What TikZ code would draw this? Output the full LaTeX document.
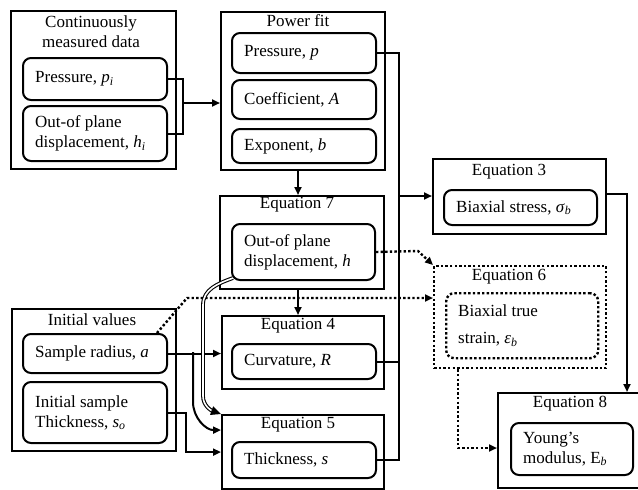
\documentclass[tikz,border=0pt]{standalone}
\usepackage{fontspec}
\setmainfont{Liberation Serif}
\newfontfamily\tnr{Liberation Serif}
\usetikzlibrary{arrows.meta}
\newcommand\sbs[1]{\textsubscript{#1}}
\begin{document}
\begin{tikzpicture}[x=1pt,y=-1pt,
 every node/.style={font=\tnr\fontsize{17}{20}\selectfont, inner sep=0pt},
 obox/.style={draw, line width=2.2pt, anchor=north west},
 ibox/.style={draw, line width=2pt, rounded corners=8pt, anchor=north west},
 dotted box/.style={draw, line width=2.4pt, dash pattern=on 2.4pt off 2.2pt, anchor=north west},
 ttl/.style={anchor=center, align=center},
 itxt/.style={anchor=west, align=left},
 line/.style={line width=2pt},
 arr/.style={line, -{Triangle[length=8pt,width=7pt]}},
 dotline/.style={line width=2.4pt, dash pattern=on 2.4pt off 2.2pt},
 dotarr/.style={dotline, -{Triangle[length=8pt,width=7pt]}},
 dblarr/.style={double, double distance=1.6pt, line width=1.1pt, -{Triangle[length=10pt,width=9pt]}},
 ]
\useasboundingbox (0,0) rectangle (638,490);
\fill[white] (0,0) rectangle (638,490);

% Continuously measured data
\node[obox, minimum width=165pt, minimum height=158pt] (A) at (10,10) {};
\node[ttl] (At) at (91,32) {Continuously\\measured data};
\node[ibox, minimum width=144pt, minimum height=42pt] (A1) at (22,57) {};
\node[itxt] (A1t) at ([xshift=13pt]A1.west) {Pressure, \textit{p}\sbs{\textit{i}}};
\node[ibox, minimum width=144pt, minimum height=55pt] (A2) at (22,105) {};
\node[itxt] (A2t) at ([xshift=13pt]A2.west) {Out-of plane\\displacement, \textit{h}\sbs{\textit{i}}};

% Power fit
\node[obox, minimum width=164pt, minimum height=158pt] (B) at (220,11) {};
\node[ttl] (Bt) at (298,21) {Power fit};
\node[ibox, minimum width=144pt, minimum height=40pt] (B1) at (231,32) {};
\node[itxt] (B1t) at ([xshift=13pt]B1.west) {Pressure, \textit{p}};
\node[ibox, minimum width=144pt, minimum height=39pt] (B2) at (231,79) {};
\node[itxt] (B2t) at ([xshift=13pt]B2.west) {Coefficient, \textit{A}};
\node[ibox, minimum width=144pt, minimum height=34pt] (B3) at (231,128) {};
\node[itxt] (B3t) at ([xshift=13pt]B3.west) {Exponent, \textit{b}};

% Equation 7
\node[obox, minimum width=164pt, minimum height=93pt] (C) at (219,195) {};
\node[ttl] (Ct) at (297,205) {Equation 7};
\node[ibox, minimum width=143pt, minimum height=56pt] (C1) at (231,223) {};
\node[itxt] (C1t) at ([xshift=13pt]C1.west) {Out-of plane\\displacement, \textit{h}};

% Equation 4
\node[obox, minimum width=162pt, minimum height=73pt] (D) at (221,315) {};
\node[ttl] (Dt) at (298,326) {Equation 4};
\node[ibox, minimum width=144pt, minimum height=35pt] (D1) at (231,343) {};
\node[itxt] (D1t) at ([xshift=13pt]D1.west) {Curvature, \textit{R}};

% Equation 5
\node[obox, minimum width=162pt, minimum height=74pt] (E) at (221,414) {};
\node[ttl] (Et) at (298,425) {Equation 5};
\node[ibox, minimum width=144pt, minimum height=36pt] (E1) at (231,441) {};
\node[itxt] (E1t) at ([xshift=13pt]E1.west) {Thickness, \textit{s}};

% Equation 3
\node[obox, minimum width=173pt, minimum height=75pt] (F) at (432,158) {};
\node[ttl] (Ft) at (509,172) {Equation 3};
\node[ibox, minimum width=153pt, minimum height=35pt] (F1) at (443,189) {};
\node[itxt] (F1t) at ([xshift=13pt]F1.west) {Biaxial stress, \textit{σ}\sbs{\textit{b}}};

% Equation 6 (dotted)
\node[dotted box, minimum width=172pt, minimum height=102pt] (G) at (433,265) {};
\node[ttl] (Gt) at (509,277) {Equation 6};
\node[dotted box, rounded corners=8pt, minimum width=152pt, minimum height=65pt] (G1) at (445,292) {};
\node[itxt] (G1t) at ([xshift=13pt]G1.west) {Biaxial true\\[7pt]strain, \textit{ε}\sbs{\textit{b}}};

% Equation 8
\node[obox, minimum width=146pt, minimum height=95pt] (H) at (497,392) {};
\node[ttl] (Ht) at (570,404) {Equation 8};
\node[ibox, minimum width=122pt, minimum height=52pt] (H1) at (510,422) {};
\node[itxt] (H1t) at ([xshift=13pt]H1.west) {Young’s\\modulus, E\sbs{\textit{b}}};

% Initial values
\node[obox, minimum width=164pt, minimum height=142pt] (I) at (11,308) {};
\node[ttl] (It) at (92,320) {Initial values};
\node[ibox, minimum width=144pt, minimum height=39pt] (I1) at (22,333) {};
\node[itxt] (I1t) at ([xshift=13pt]I1.west) {Sample radius, \textit{a}};
\node[ibox, minimum width=144pt, minimum height=61pt] (I2) at (22,381) {};
\node[itxt] (I2t) at ([xshift=13pt]I2.west) {Initial sample\\Thickness, \textit{s}\sbs{\textit{o}}};

% coordinates
\coordinate (Aj) at (183,103);
\coordinate (bus) at (399,196);
\coordinate (Fo) at (627,194);
\coordinate (ck) at (418,251);
\coordinate (dk) at (187,298);
\coordinate (hk) at (497,448);
\coordinate (ib) at (193,352);
\coordinate (ibk) at (193,402);
\coordinate (dv1) at (203,305);
\coordinate (dv2) at (203,396);

% connectors
\draw[line] (A1.east) -| (Aj) |- (A2.east);
\draw[arr] (Aj) -- (Aj -| B.west);
\draw[arr] (B.south -| Bt) -- (C.north -| Bt);
\draw[arr] (C.south -| Bt) -- (D.north -| Bt);
\draw[line] (B1.east) -| (bus) |- (E1.east);
\draw[line] (D1.east) -- (D1.east -| bus);
\draw[arr] (bus) -- (bus -| F.west);
\draw[arr] (F.east |- Fo) -- (Fo) -- (Fo |- H.north);
\draw[dotarr] (C1.east) -- (ck) -- (G.north west);
\draw[dotarr] ([xshift=-11pt]I1.north east) -- (dk) -- (dk -| G.west);
\draw[dotarr] ([xshift=25pt]G.south west) |- (hk);
\draw[arr] (I1.east) -- (I1.east -| D.west);
\draw[arr] (ib) -- (ibk) to[out=-90,in=180] ([yshift=22pt]E.west);
\draw[arr] (I2.east) -- ++(18,0) |- (E.west);
\draw[dblarr] ([xshift=2pt,yshift=3pt]C1.south west) to[out=200,in=90] (dv1) -- (dv2) to[out=-90,in=160] (E.north west);
\end{tikzpicture}
\end{document}
